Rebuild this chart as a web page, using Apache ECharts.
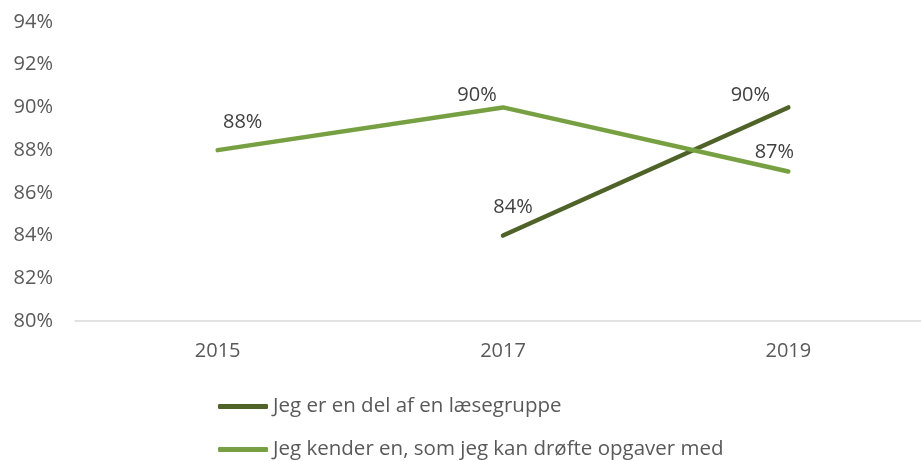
<!DOCTYPE html>
<html>
<head>
<meta charset="utf-8">
<script src="https://cdn.jsdelivr.net/npm/echarts@6/dist/echarts.min.js"></script>
<style>
  html, body { margin: 0; padding: 0; background: #fff; }
  #chart { width: 921px; height: 461px; }
</style>
</head>
<body>
<div id="chart"></div>
<script>
const years = ['2015', '2017', '2019'];
const laesegruppe = [null, 0.84, 0.90];
const droefte = [0.88, 0.90, 0.87];
const seriesNames = ['Jeg er en del af en læsegruppe', 'Jeg kender en, som jeg kan drøfte opgaver med'];
const colors = ['#4f6228', '#77a043'];

// label nudges, one per point, to mimic the original placement
const darkOffsets = [[0, 0], [10, -28], [-38, -12]];
const lightOffsets = [[25, -28], [-26, -12], [-14, -19]];

const font = '"Open Sans", sans-serif';
const fs = 20;
const pct = v => Math.round(v * 100) + '%';

const withLabels = (vals, offs) => vals.map((v, i) => ({
  value: v,
  label: { offset: offs[i] }
}));

const lineSeries = (i, vals, offs) => ({
  name: seriesNames[i],
  type: 'line',
  data: withLabels(vals, offs),
  symbol: 'circle',
  symbolSize: 1,
  showSymbol: true,
  lineStyle: { width: 4.5, color: colors[i], cap: 'round' },
  itemStyle: { color: 'rgba(0,0,0,0)', borderWidth: 0 },
  label: {
    show: true, position: 'inside',
    fontFamily: font, fontSize: fs, color: '#404040',
    formatter: p => p.value == null ? '' : pct(p.value)
  }
});

const chart = echarts.init(document.getElementById('chart'));
chart.setOption({
  animation: false,
  grid: { left: 75, top: 22, width: 856, bottom: 140, outerBoundsMode: 'none', containLabel: false },
  legend: {
    orient: 'vertical',
    left: 218,
    top: 396,
    padding: 0,
    itemGap: 22,
    itemWidth: 50,
    itemHeight: 5,
    icon: 'roundRect',
    data: seriesNames.map((n, i) => ({ name: n, itemStyle: { color: colors[i] } })),
    textStyle: { fontFamily: font, fontSize: 20.5, color: '#595959' }
  },
  xAxis: {
    type: 'category',
    data: years,
    boundaryGap: true,
    axisLine: { lineStyle: { color: '#d9d9d9', width: 1.5 } },
    axisTick: { show: false },
    axisLabel: { fontFamily: font, fontSize: fs, color: '#595959', margin: 20 }
  },
  yAxis: {
    type: 'value',
    min: 0.80,
    max: 0.94,
    interval: 0.02,
    splitLine: { show: false },
    axisLine: { show: false },
    axisTick: { show: false },
    axisLabel: {
      fontFamily: font, fontSize: fs, color: '#595959', margin: 22,
      formatter: pct
    }
  },
  series: [
    lineSeries(0, laesegruppe, darkOffsets),
    lineSeries(1, droefte, lightOffsets)
  ]
});
</script>
</body>
</html>
